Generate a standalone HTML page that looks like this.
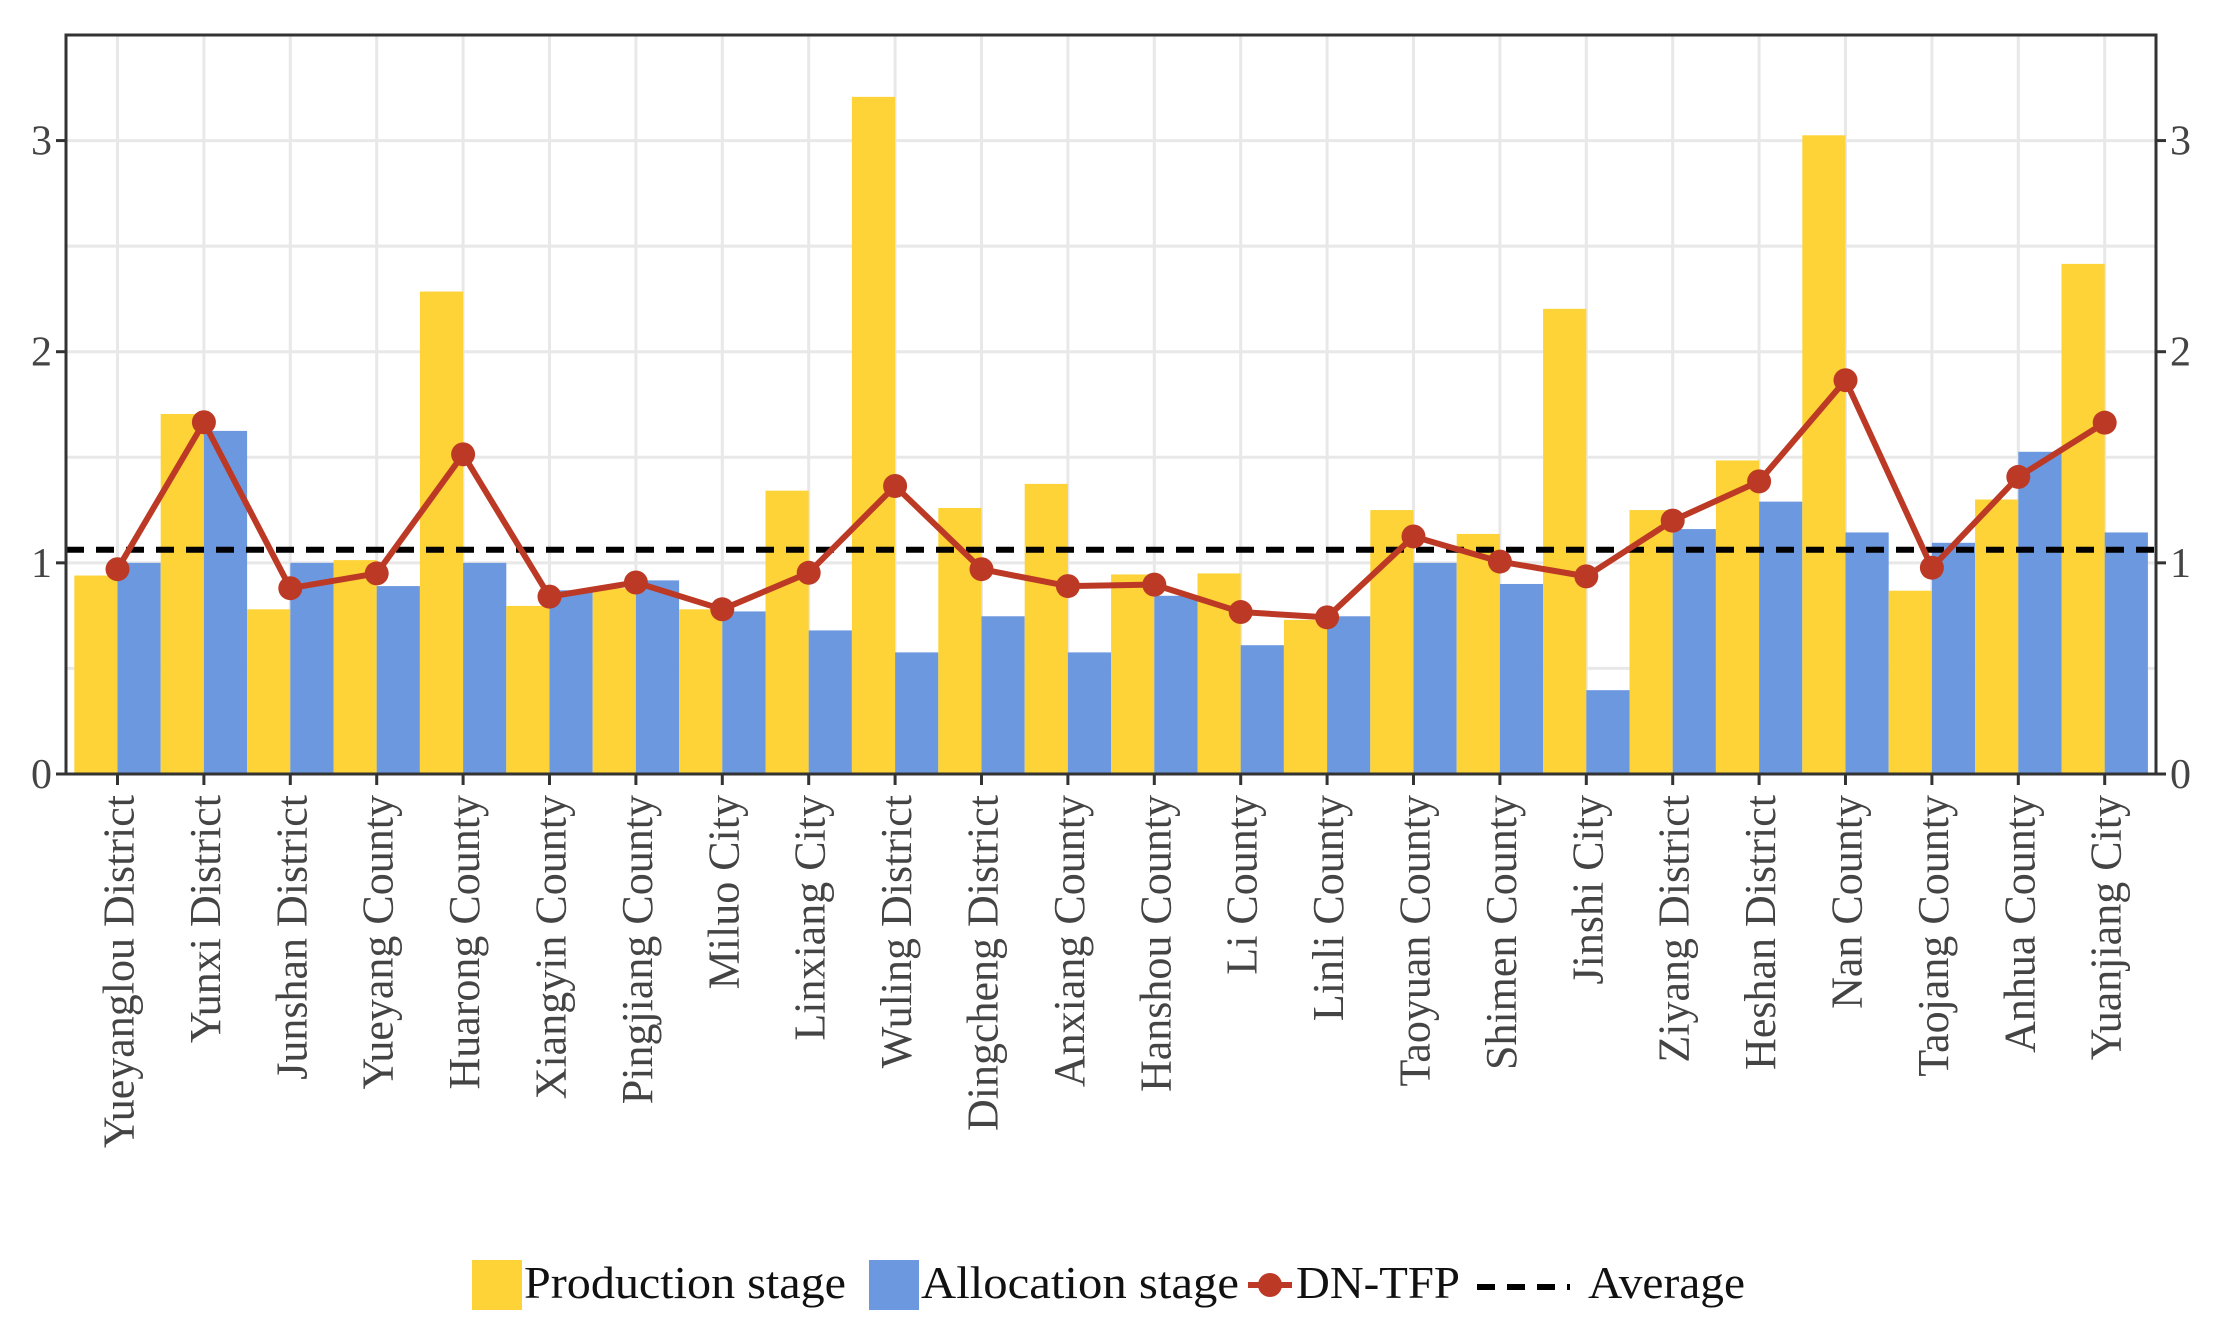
<!DOCTYPE html>
<html><head><meta charset="utf-8"><style>
body{margin:0;background:#fff;}
svg{display:block;font-family:"Liberation Serif",serif;}
</style></head><body>
<svg id="chart" width="2217" height="1335" xmlns="http://www.w3.org/2000/svg">
<g id="grid"></g>
<g id="bars"></g>
<g id="avg"></g>
<g id="line"></g>
<g id="axes"></g>
<g id="legend">
  <rect x="472" y="1260" width="50" height="50" fill="#FDD337"/>
  <text x="524" y="1298" font-size="46" fill="#111" textLength="322" lengthAdjust="spacingAndGlyphs">Production stage</text>
  <rect x="869" y="1260" width="50" height="50" fill="#6C98E0"/>
  <text x="921" y="1298" font-size="46" fill="#111" textLength="318" lengthAdjust="spacingAndGlyphs">Allocation stage</text>
  <line x1="1248" y1="1285" x2="1292" y2="1285" stroke="#BC3A25" stroke-width="6"/>
  <circle cx="1270" cy="1285" r="12" fill="#BC3A25"/>
  <text x="1296" y="1298" font-size="46" fill="#111" textLength="164" lengthAdjust="spacingAndGlyphs">DN-TFP</text>
  <line x1="1477" y1="1287" x2="1570" y2="1287" stroke="#000" stroke-width="6" stroke-dasharray="18,12"/>
  <text x="1588" y="1298" font-size="46" fill="#111" textLength="157" lengthAdjust="spacingAndGlyphs">Average</text>
</g>
</svg>
<script>
const categories=["Yueyanglou District","Yunxi District","Junshan District","Yueyang County","Huarong County","Xiangyin County","Pingjiang County","Miluo City","Linxiang City","Wuling District","Dingcheng District","Anxiang County","Hanshou County","Li County","Linli County","Taoyuan County","Shimen County","Jinshi City","Ziyang District","Heshan District","Nan County","Taojang County","Anhua County","Yuanjiang City"];
const production=[0.94,1.705,0.78,1.013,2.285,0.796,0.88,0.78,1.342,3.207,1.26,1.374,0.945,0.95,0.73,1.25,1.137,2.203,1.25,1.485,3.025,0.868,1.3,2.416];
const allocation=[1.0,1.625,1.0,0.89,1.0,0.87,0.917,0.77,0.68,0.576,0.747,0.576,0.844,0.61,0.747,1.0,0.9,0.397,1.16,1.29,1.144,1.095,1.526,1.144];
const dntfp=[0.97,1.666,0.88,0.95,1.514,0.84,0.907,0.78,0.953,1.364,0.97,0.89,0.897,0.767,0.742,1.125,1.006,0.936,1.2,1.386,1.865,0.977,1.407,1.664];
const average=1.062;
const yTicks=[0,1,2,3];
const yGrid=[0.5,1,1.5,2,2.5,3,3.5];

const L=66,R=2156,T=35,B=774,YMAX=3.5;
const band=86.4,x0=74.3;
const y=v=>B-(v/YMAX)*(B-T);
const xc=i=>x0+band*(i+0.5);
const NS="http://www.w3.org/2000/svg";
function mk(tag,parent,attrs){const e=document.createElementNS(NS,tag);for(const k in attrs)e.setAttribute(k,attrs[k]);parent.appendChild(e);return e;}
const grid=document.getElementById('grid'),bars=document.getElementById('bars'),avg=document.getElementById('avg'),line=document.getElementById('line'),axes=document.getElementById('axes');

yGrid.forEach(v=>{const g=mk('line',grid,{x1:L,x2:R,y1:y(v),y2:y(v),stroke:'#e8e8e8','stroke-width':3});

});
categories.forEach((c,i)=>{const g=mk('line',grid,{x1:xc(i),x2:xc(i),y1:T,y2:B,stroke:'#e8e8e8','stroke-width':3});

});

const bw=band/2;
categories.forEach((c,i)=>{
 const p=mk('rect',bars,{x:xc(i)-bw,y:y(production[i]),width:bw,height:B-y(production[i]),fill:'#FDD337'});
 
 
 const a=mk('rect',bars,{x:xc(i),y:y(allocation[i]),width:bw,height:B-y(allocation[i]),fill:'#6C98E0'});
 
 
});

const al=mk('line',avg,{x1:L,x2:R,y1:y(average),y2:y(average),stroke:'#000','stroke-width':6,'stroke-dasharray':'18,12'});



const pl=mk('polyline',line,{points:dntfp.map((v,i)=>xc(i)+','+y(v)).join(' '),fill:'none',stroke:'#BC3A25','stroke-width':6,'stroke-linejoin':'round'});


dntfp.forEach((v,i)=>{const c=mk('circle',line,{cx:xc(i),cy:y(v),r:12,fill:'#BC3A25'});

});

const fr=mk('rect',axes,{x:L,y:T,width:R-L,height:B-T,fill:'none',stroke:'#333','stroke-width':3});


yTicks.forEach(v=>{
 const t1=mk('line',axes,{x1:L-10,x2:L,y1:y(v),y2:y(v),stroke:'#333','stroke-width':3});
 
 
 const t2=mk('line',axes,{x1:R,x2:R+10,y1:y(v),y2:y(v),stroke:'#333','stroke-width':3});
 
 
 const l1=mk('text',axes,{x:L-14,y:y(v)+14,'text-anchor':'end','font-size':42,fill:'#444'});l1.textContent=v;
 
 
 const l2=mk('text',axes,{x:R+14,y:y(v)+14,'font-size':42,fill:'#444'});l2.textContent=v;
 
 
});
categories.forEach((c,i)=>{
 const t=mk('line',axes,{x1:xc(i),x2:xc(i),y1:B,y2:B+11,stroke:'#333','stroke-width':3});
 
 
 const tx=mk('text',axes,{x:0,y:0,'text-anchor':'end','font-size':44,fill:'#444',transform:`translate(${xc(i)+16},795) rotate(-90)`});
 tx.textContent=c;
 
 
});
</script>
</body></html>
